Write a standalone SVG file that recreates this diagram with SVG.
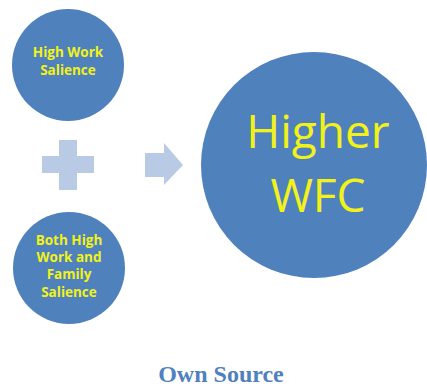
<svg xmlns="http://www.w3.org/2000/svg" width="427" height="387" viewBox="0 0 427 387">
<style>
.c{fill:#4f81bd}
.s{fill:#b9cbe4}
.t{fill:#f2f21a;font-family:"Open Sans","Liberation Sans",sans-serif;font-weight:bold;text-anchor:middle;font-size:13.5px}
.b{fill:#f2f21a;font-family:"Open Sans","Liberation Sans",sans-serif;text-anchor:middle;font-size:46px}
</style>
<rect width="427" height="387" fill="#ffffff"/>
<g id="node-work">
<circle class="c" cx="68" cy="65" r="56"/>
<text class="t" x="68" y="57">High Work</text>
<text class="t" x="68" y="75">Salience</text>
</g>
<g id="node-both">
<circle class="c" cx="69" cy="268" r="56"/>
<text class="t" x="69" y="245">Both High</text>
<text class="t" x="69" y="262">Work and</text>
<text class="t" x="69" y="279">Family</text>
<text class="t" x="69" y="297">Salience</text>
</g>
<g id="node-wfc">
<circle class="c" cx="314" cy="165" r="113"/>
<text class="b" x="318" y="148">Higher</text>
<text class="b" x="318" y="212">WFC</text>
</g>
<g id="connectors">
<path class="s" d="M59,140H77V156H94V173H77V190H59V173H42V156H59Z"/>
<path class="s" d="M145,153H164V143L183,165L164,185V177H145Z"/>
</g>
<text x="221" y="382" font-family="'Liberation Serif',serif" font-weight="bold" font-size="24" fill="#4f81bd" text-anchor="middle">Own Source</text>
</svg>
